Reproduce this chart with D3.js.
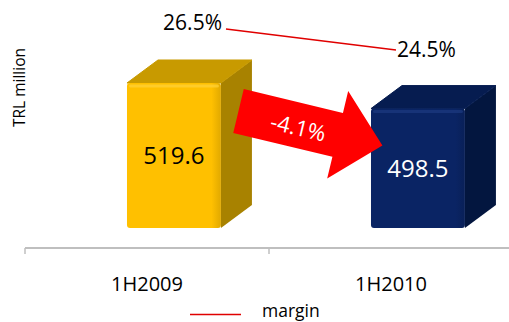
<!DOCTYPE html>
<html>
<head>
<meta charset="utf-8">
<script src="https://cdn.jsdelivr.net/npm/d3@7"></script>
<style>
  html, body { margin: 0; padding: 0; background: #ffffff; }
  svg { display: block; font-family: "Open Sans", sans-serif; }
</style>
</head>
<body>
<svg id="chart" width="509" height="322"></svg>
<script>
// Revenue by half-year (TRL million) and margin (%)
const categories = ["1H2009", "1H2010"];
const revenue = [519.6, 498.5];
const margin = [26.5, 24.5];
const marginLabels = ["26.5%", "24.5%"];
const changeLabel = "-4.1%";

const faceColors = [
  { front: "#FFC000", top: "#C89A00", side: "#A88200", hi: "#FFD23A", text: "#000000" },
  { front: "#0A2464", top: "#061C50", side: "#03163F", hi: "#1D3A80", text: "#FFFFFF" }
];

const svg = d3.select("#chart");

// Scales
const x = d3.scaleBand().domain(categories).range([25, 513]).padding(0);
const bw = x.bandwidth();
const y = d3.scaleLinear().domain([400, 520]).range([228, 82.5]);
const floorY = y(400);
const axisY = 248;

// 3D depth of the boxes
const depthX = 31, depthY = -23;
const frontOffset = bw * 0.418;
const frontW = bw * 0.385;

// Axis line with category boundary ticks
const axisG = svg.append("g").attr("transform", `translate(0,${axisY})`);
axisG.append("line")
  .attr("x1", x.range()[0]).attr("x2", x.range()[1])
  .attr("stroke", "#BFBFBF").attr("stroke-width", 2);
const boundaries = categories.map(c => x(c)).concat([x.range()[1]]);
axisG.selectAll("line.bound").data(boundaries).join("line")
  .attr("class", "bound")
  .attr("x1", d => d).attr("x2", d => d)
  .attr("y1", 0).attr("y2", 6)
  .attr("stroke", "#BFBFBF").attr("stroke-width", 1.5);

// Category labels
svg.append("g").selectAll("text").data(categories).join("text")
  .attr("x", d => x(d) + bw / 2)
  .attr("y", 290.5)
  .attr("text-anchor", "middle")
  .attr("font-size", 20)
  .attr("fill", "#000")
  .text(d => d);

// Y-axis title
svg.append("text")
  .attr("transform", "translate(25,87.5) rotate(-90)")
  .attr("text-anchor", "middle")
  .attr("font-size", 15.5)
  .attr("fill", "#000")
  .text("TRL million");

// Boxes
const defs = svg.append("defs");
faceColors.forEach((c, i) => {
  const g = defs.append("linearGradient").attr("id", "front" + i)
    .attr("x1", 0).attr("x2", 1).attr("y1", 0).attr("y2", 0);
  g.append("stop").attr("offset", 0).attr("stop-color", c.front);
  g.append("stop").attr("offset", 0.9).attr("stop-color", c.front);
  g.append("stop").attr("offset", 1).attr("stop-color", d3.color(c.front).darker(0.35));
});

const bars = svg.append("g").selectAll("g.bar").data(revenue).join("g").attr("class", "bar");
bars.each(function (v, i) {
  const g = d3.select(this);
  const c = faceColors[i];
  const x0 = x(categories[i]) + frontOffset;
  const x1 = x0 + frontW;
  const yt = y(v);
  const yb = floorY;
  // side face
  g.append("path")
    .attr("d", `M${x1},${yt} L${x1 + depthX},${yt + depthY} L${x1 + depthX},${yb + depthY} L${x1},${yb} Z`)
    .attr("fill", c.side);
  // top face
  g.append("path")
    .attr("d", `M${x0},${yt} L${x0 + depthX},${yt + depthY} L${x1 + depthX},${yt + depthY} L${x1},${yt} Z`)
    .attr("fill", c.top)
    .attr("stroke", c.top).attr("stroke-width", 1).attr("stroke-linejoin", "round");
  // front face
  g.append("rect")
    .attr("x", x0).attr("y", yt)
    .attr("width", frontW).attr("height", yb - yt)
    .attr("rx", 3)
    .attr("fill", `url(#front${i})`);
  // bevel highlight along the top edge of the front face
  g.append("rect")
    .attr("x", x0 + 2).attr("y", yt + 1.5)
    .attr("width", frontW - 4).attr("height", 3)
    .attr("rx", 1.5)
    .attr("fill", c.hi).attr("opacity", 0.7);
  // value label
  g.append("text")
    .attr("x", (x0 + x1) / 2)
    .attr("y", (yt + yb) / 2 + 9)
    .attr("text-anchor", "middle")
    .attr("font-size", 24)
    .attr("fill", c.text)
    .text(v.toFixed(1));
});

// Change arrow between the two boxes
const arrowLen = 148, shaftHalf = 22.5, headHalf = 45, headLen = 46;
const arrowPts = [
  [0, -shaftHalf], [arrowLen - headLen, -shaftHalf], [arrowLen - headLen, -headHalf],
  [arrowLen, 0], [arrowLen - headLen, headHalf], [arrowLen - headLen, shaftHalf], [0, shaftHalf]
];
const arrowG = svg.append("g")
  .attr("transform", `translate(${x(categories[0]) + bw * 0.875},111) rotate(13.5)`);
arrowG.append("path")
  .attr("d", d3.line()(arrowPts) + "Z")
  .attr("fill", "#FF0000");
arrowG.append("text")
  .attr("x", 62).attr("y", 10)
  .attr("text-anchor", "middle")
  .attr("font-size", 22)
  .attr("fill", "#FFFFFF")
  .text(changeLabel);

// Margin line
const xm = d3.scalePoint().domain(categories).range([226, 396]);
const ym = d3.scaleLinear().domain([24.5, 26.5]).range([50, 29]);
const lineGen = d3.line().x((d, i) => xm(categories[i])).y(d => ym(d));
svg.append("path")
  .datum(margin)
  .attr("d", lineGen)
  .attr("fill", "none")
  .attr("stroke", "#E00000")
  .attr("stroke-width", 1.3);

svg.append("text")
  .attr("x", xm(categories[0]) - 4).attr("y", ym(margin[0]) + 1)
  .attr("text-anchor", "end")
  .attr("font-size", 21)
  .text(marginLabels[0]);
svg.append("text")
  .attr("x", xm(categories[1]) + 1).attr("y", ym(margin[1]) + 7)
  .attr("text-anchor", "start")
  .attr("font-size", 21)
  .text(marginLabels[1]);

// Legend
svg.append("line")
  .attr("x1", 190).attr("x2", 241).attr("y1", 314.5).attr("y2", 314.5)
  .attr("stroke", "#E00000").attr("stroke-width", 1.3);
svg.append("text")
  .attr("x", 262).attr("y", 317)
  .attr("font-size", 17.5)
  .text("margin");
</script>
</body>
</html>
